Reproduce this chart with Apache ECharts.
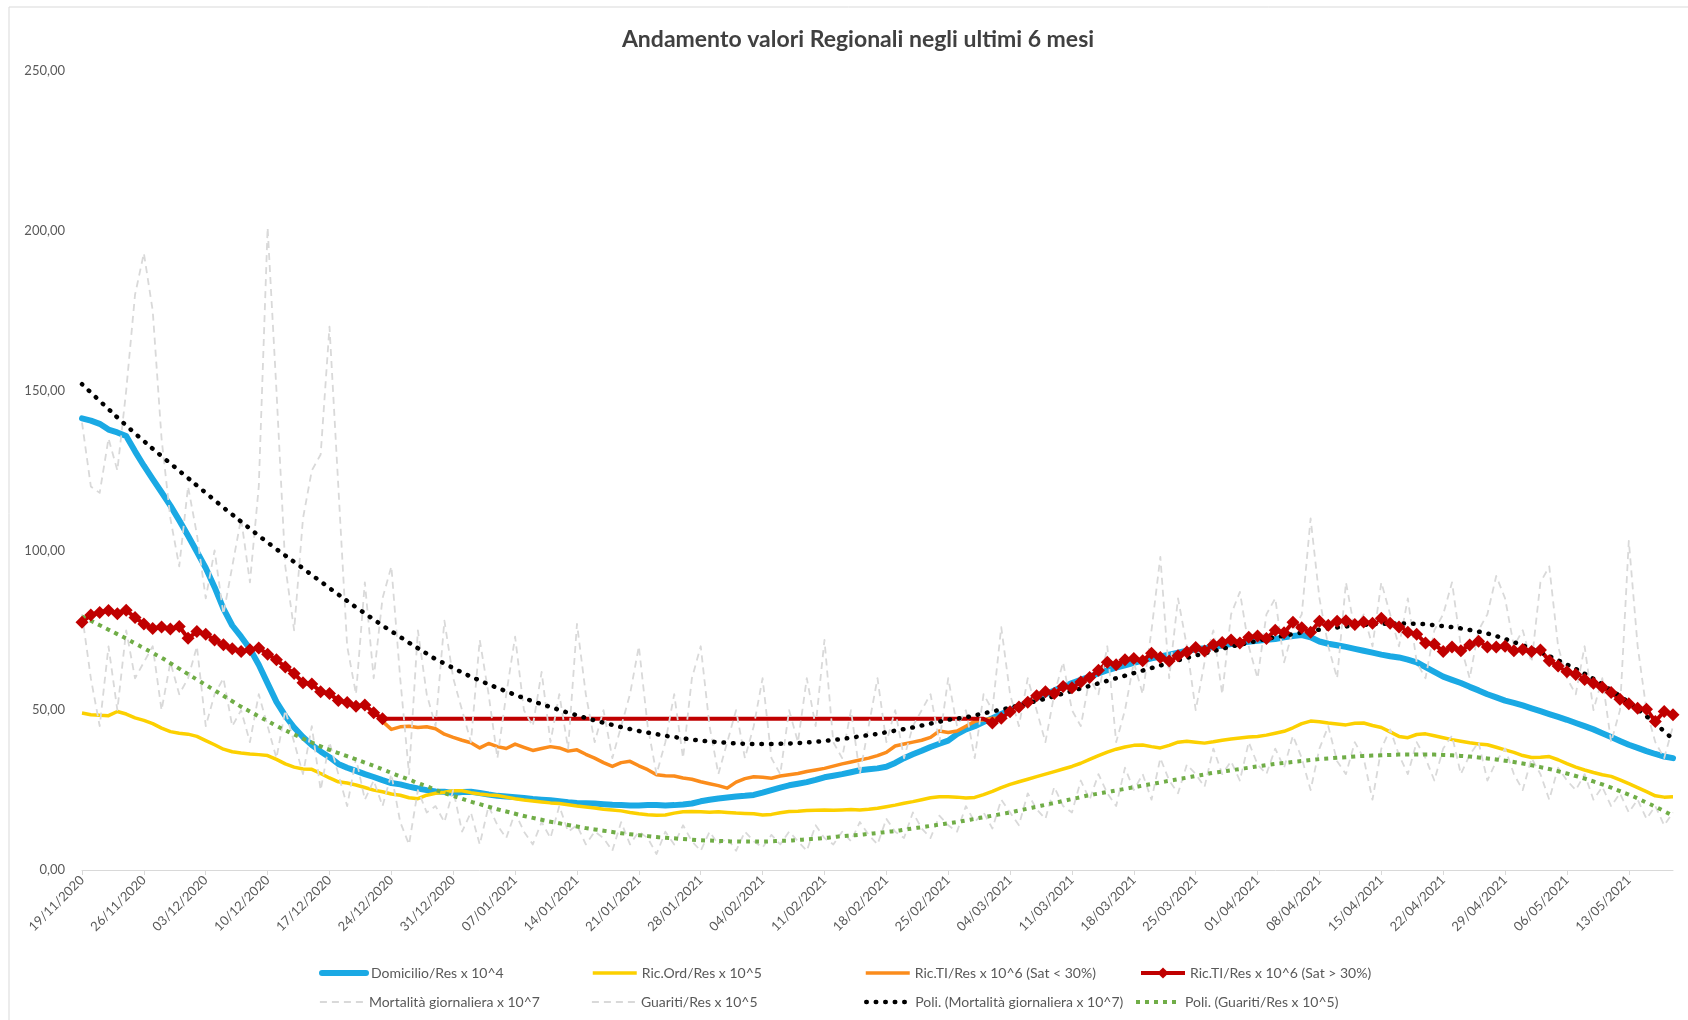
<!DOCTYPE html>
<html>
<head>
<meta charset="utf-8">
<title>Andamento valori Regionali negli ultimi 6 mesi</title>
<script src="https://cdn.jsdelivr.net/npm/echarts@6/dist/echarts.min.js"></script>
<style>
  html, body { margin: 0; padding: 0; background: #ffffff; }
  #chart { width: 1688px; height: 1020px; }
</style>
</head>
<body>
<div id="chart"></div>
<script>
// Daily categories: 19/11/2020 .. 18/05/2021
const START_DAY = [2020, 10, 19];
const DAY_COUNT = 181;

// Domicilio/Res x 10^4
const domicilio = [
  141.3, 140.6, 139.6, 137.8, 136.9, 135.8, 131.0, 126.5, 122.3, 118.2,
  114.0, 109.4, 104.6, 99.6, 94.5, 88.5, 81.8, 76.5, 73.0, 69.2,
  64.2, 58.4, 52.6, 48.2, 44.6, 41.6, 39.1, 37.1, 35.3, 33.2,
  32.0, 31.0, 30.0, 29.1, 28.1, 27.2, 26.8, 26.1, 25.5, 25.0,
  24.6, 24.5, 24.1, 24.4, 24.5, 24.1, 23.6, 23.2, 23.0, 22.8,
  22.5, 22.2, 22.0, 21.8, 21.5, 21.2, 21.0, 20.9, 20.8, 20.6,
  20.4, 20.3, 20.2, 20.2, 20.3, 20.3, 20.2, 20.3, 20.5, 20.8,
  21.5, 22.0, 22.4, 22.7, 23.0, 23.2, 23.5, 24.2, 25.0, 25.8,
  26.5, 27.0, 27.5, 28.2, 29.0, 29.5, 30.0, 30.6, 31.2, 31.5,
  31.8, 32.3, 33.5, 35.0, 36.2, 37.3, 38.5, 39.5, 40.5, 42.5,
  44.0, 45.0, 46.3, 47.5, 48.8, 50.0, 51.2, 52.5, 53.8, 55.0,
  56.2, 57.3, 58.5, 59.5, 60.5, 61.5, 62.5, 63.3, 64.0, 64.8,
  65.5, 66.2, 66.8, 67.4, 68.0, 68.6, 69.0, 69.4, 69.8, 70.2,
  70.7, 71.1, 71.4, 71.7, 72.0, 72.3, 72.8, 73.2, 73.5, 72.8,
  71.5, 70.8, 70.3, 69.8, 69.2, 68.6, 68.0, 67.4, 66.9, 66.5,
  65.8, 65.0, 63.5, 62.0, 60.5, 59.5, 58.5, 57.3, 56.2, 55.0,
  54.0, 53.0, 52.3, 51.5, 50.6, 49.7, 48.8, 47.9, 47.0, 46.0,
  45.0, 44.0, 42.8, 41.6, 40.4, 39.2, 38.2, 37.2, 36.3, 35.5,
  35.0
];

// Ric.Ord/Res x 10^5
const ricOrd = [
  49.1, 48.6, 48.4, 48.3, 49.6, 48.8, 47.6, 46.8, 45.8, 44.4,
  43.3, 42.8, 42.5, 41.8, 40.5, 39.2, 37.8, 37.0, 36.6, 36.3,
  36.1, 35.8, 34.6, 33.2, 32.2, 31.6, 31.5, 30.2, 28.8, 27.6,
  27.2, 26.6, 25.8, 25.0, 24.5, 23.8, 23.4, 22.6, 22.3, 23.4,
  24.0, 24.3, 24.8, 24.8, 24.2, 23.8, 23.5, 23.3, 22.8, 22.3,
  21.9, 21.6, 21.3, 21.0, 20.8, 20.4, 20.0, 19.7, 19.4, 19.0,
  18.8, 18.5, 18.0, 17.6, 17.3, 17.1, 17.2, 17.8, 18.2, 18.3,
  18.2, 18.1, 18.2, 18.0, 17.8, 17.7, 17.6, 17.2, 17.4, 17.9,
  18.3, 18.4, 18.6, 18.7, 18.8, 18.7, 18.8, 18.9, 18.8, 19.0,
  19.3, 19.8, 20.3, 20.9, 21.4, 22.0, 22.6, 22.9, 22.9, 22.8,
  22.5, 22.7, 23.6, 24.6, 25.8, 26.8, 27.6, 28.4, 29.2, 30.0,
  30.8, 31.6, 32.4, 33.4, 34.6, 35.8, 36.9, 37.8, 38.5, 39.0,
  39.1, 38.6, 38.2, 39.0, 40.0, 40.3, 40.0, 39.7, 40.1, 40.6,
  41.0, 41.3, 41.6, 41.8, 42.2, 42.8, 43.4, 44.5, 45.8, 46.6,
  46.4, 46.0, 45.7, 45.4, 45.9, 46.0, 45.2, 44.6, 43.2, 41.8,
  41.4, 42.4, 42.6, 42.0, 41.4, 40.8, 40.3, 39.8, 39.4, 39.2,
  38.4, 37.6, 36.8, 35.8, 35.2, 35.3, 35.5, 34.5, 33.3, 32.2,
  31.3, 30.5, 29.8, 29.3, 28.2, 27.0, 25.8, 24.5, 23.2, 22.8,
  22.9
];

// Ric.TI/Res x 10^6 while saturation is below 30%
const ricTiLow = [
  null, null, null, null, null, null, null, null, null, null,
  null, null, null, null, null, null, null, null, null, null,
  null, null, null, null, null, null, null, null, null, null,
  null, null, null, null, 46.5, 44.0, 44.8, 45.0, 44.6, 44.8,
  44.2, 42.5, 41.5, 40.6, 39.8, 38.2, 39.6, 38.6, 38.0, 39.4,
  38.4, 37.4, 38.0, 38.6, 38.2, 37.2, 37.6, 36.2, 35.0, 33.6,
  32.4, 33.6, 34.0, 32.6, 31.4, 29.8, 29.5, 29.4, 28.8, 28.4,
  27.6, 27.0, 26.4, 25.6, 27.5, 28.6, 29.2, 29.0, 28.7, 29.4,
  29.8, 30.2, 30.8, 31.3, 31.8, 32.5, 33.2, 33.8, 34.4, 35.0,
  35.8, 36.8, 38.8, 39.4, 40.0, 40.6, 41.5, 43.5, 43.0, 43.5,
  45.0, 46.5, 47.0, 47.5, 47.3, null, null, null, null, null,
  null, null, null, null, null, null, null, null, null, null,
  null, null, null, null, null, null, null, null, null, null,
  null, null, null, null, null, null, null, null, null, null,
  null, null, null, null, null, null, null, null, null, null,
  null, null, null, null, null, null, null, null, null, null,
  null, null, null, null, null, null, null, null, null, null,
  null, null, null, null, null, null, null, null, null, null,
  null
];

// Ric.TI/Res x 10^6 while saturation is above 30%;
// null days sit on the 30% saturation level and carry no marker
const SAT_LEVEL = 47.3;
const ricTiHigh = [
  77.5, 79.8, 80.6, 81.2, 80.2, 81.3, 79.0, 77.0, 75.6, 76.0,
  75.4, 76.2, 72.5, 74.6, 73.8, 72.0, 70.5, 69.2, 68.4, 68.9,
  69.5, 67.5, 65.8, 63.5, 61.5, 58.6, 58.2, 55.8, 55.2, 53.0,
  52.4, 51.2, 51.6, 49.2, 47.3, null, null, null, null, null,
  null, null, null, null, null, null, null, null, null, null,
  null, null, null, null, null, null, null, null, null, null,
  null, null, null, null, null, null, null, null, null, null,
  null, null, null, null, null, null, null, null, null, null,
  null, null, null, null, null, null, null, null, null, null,
  null, null, null, null, null, null, null, null, null, null,
  null, null, null, 46.0, 47.5, 49.5, 51.0, 52.5, 54.5, 55.8,
  55.2, 57.4, 57.0, 58.8, 60.2, 62.5, 65.0, 64.2, 65.8, 66.2,
  65.5, 67.8, 66.5, 65.4, 67.0, 68.2, 69.6, 68.5, 70.5, 71.2,
  72.0, 71.0, 72.8, 73.2, 72.4, 75.0, 74.2, 77.5, 75.8, 74.4,
  77.8, 76.6, 77.8, 78.0, 76.8, 77.6, 77.2, 78.8, 77.2, 76.0,
  74.4, 73.8, 71.0, 70.6, 68.4, 69.8, 68.6, 70.4, 71.6, 69.8,
  69.8, 70.0, 68.6, 69.0, 68.4, 68.8, 65.5, 63.8, 62.0, 61.2,
  59.6, 58.4, 57.2, 55.5, 53.4, 52.0, 50.6, 50.3, 46.5, 49.6,
  48.6
];

// Mortalità giornaliera x 10^7
const mortalita = [
  140, 120, 118, 135, 125, 150, 180, 193, 175, 135,
  110, 95, 120, 105, 85, 100, 80, 95, 110, 90,
  120, 201, 150, 95, 75, 110, 125, 130, 170, 120,
  70, 55, 90, 60, 85, 95, 60, 30, 75, 55,
  45, 78, 60, 50, 40, 72, 55, 35, 55, 73,
  50, 45, 62, 40, 55, 38, 77, 55, 40, 50,
  35, 45, 55, 70, 45, 30, 40, 55, 35, 60,
  70, 45, 30, 40, 50, 35, 45, 60, 35, 30,
  50, 40, 60, 45, 72, 40, 35, 50, 30, 45,
  60, 40, 50, 35, 45, 50, 55, 40, 60, 45,
  50, 35, 55, 50, 76, 55, 45, 60, 50, 40,
  55, 65, 50, 45, 60, 55, 70, 40, 50, 65,
  55, 75, 98, 60, 85, 70, 50, 65, 75, 55,
  80, 87, 70, 60, 80, 85, 65, 75, 80, 110,
  85, 70, 60, 90, 75, 80, 70, 90, 80, 70,
  85, 65, 60, 75, 80, 90, 70, 60, 75, 80,
  92, 85, 70, 75, 65, 90, 95, 70, 60, 55,
  70, 50, 60, 40, 50, 103, 70, 50, 40, 35,
  45
];

// Guariti/Res x 10^5
const guariti = [
  80, 60, 45, 70, 50, 75, 60, 65, 70, 50,
  65, 55, 60, 70, 45, 55, 60, 45, 50, 40,
  55, 45, 35, 50, 40, 30, 45, 25, 40, 30,
  20, 35, 22, 28, 20, 30, 15, 8, 25, 18,
  20, 15, 25, 12, 18, 8, 20, 14, 10, 18,
  12, 8, 15, 10, 20, 12, 14, 8, 12, 10,
  6, 15, 8, 12, 10, 5, 12, 8, 14, 9,
  6, 12, 8, 10, 6, 12, 9, 7, 11, 8,
  12, 9, 6, 14, 10, 8, 12, 9, 15, 11,
  8, 16, 12, 10, 18, 13, 10, 17, 14, 12,
  20, 15, 18, 13, 22, 18, 14, 24, 19, 16,
  26, 20, 18, 28, 22, 30, 24, 20, 32, 25,
  30, 22, 35, 28, 24, 33, 30, 26, 38, 30,
  34, 28, 40, 33, 30, 38, 32, 42, 35, 25,
  38, 45, 34, 30, 40, 35, 22, 38, 44, 36,
  30, 40, 35, 28, 38, 42, 30, 36, 40, 28,
  34, 38, 30, 25, 35, 30, 22, 32, 28, 25,
  30, 22, 26, 20, 24, 18, 22, 16, 20, 14,
  18
];

// Poli. (Mortalità giornaliera x 10^7) - polynomial trend
const trendMortalita = [
  152.0, 149.4, 146.8, 144.2, 141.6, 139.1, 136.6, 134.2, 131.8, 129.5,
  127.2, 124.9, 122.6, 120.3, 118.0, 115.7, 113.4, 111.2, 109.0, 106.8,
  104.6, 102.5, 100.4, 98.4, 96.4, 94.4, 92.3, 90.3, 88.2, 86.2,
  84.2, 82.2, 80.3, 78.4, 76.5, 74.7, 72.9, 71.1, 69.4, 67.7,
  66.0, 64.6, 63.2, 61.8, 60.5, 59.3, 58.1, 57.0, 55.9, 54.8,
  53.8, 52.8, 51.9, 51.0, 50.1, 49.2, 48.4, 47.6, 46.8, 46.1,
  45.4, 44.7, 44.1, 43.5, 43.0, 42.5, 42.0, 41.6, 41.2, 40.8,
  40.5, 40.2, 40.0, 39.8, 39.6, 39.5, 39.4, 39.4, 39.4, 39.5,
  39.6, 39.7, 39.9, 40.1, 40.4, 40.7, 41.0, 41.4, 41.8, 42.2,
  42.6, 43.1, 43.6, 44.1, 44.6, 45.2, 45.8, 46.4, 47.0, 47.4,
  47.8, 48.4, 49.0, 49.6, 50.2, 50.8, 51.5, 52.2, 52.9, 53.6,
  54.4, 55.2, 56.0, 56.8, 57.6, 58.4, 59.2, 60.0, 60.8, 61.6,
  62.4, 63.2, 64.0, 64.8, 65.6, 66.4, 67.1, 67.8, 68.5, 69.2,
  69.9, 70.5, 71.1, 71.7, 72.3, 72.8, 73.3, 73.8, 74.3, 74.8,
  75.2, 75.6, 75.9, 76.2, 76.5, 76.7, 76.9, 77.0, 77.1, 77.1,
  77.1, 77.0, 76.9, 76.6, 76.3, 76.0, 75.6, 75.1, 74.6, 74.0,
  73.2, 72.3, 71.3, 70.3, 69.2, 68.1, 66.9, 65.6, 64.3, 62.9,
  61.4, 59.8, 58.1, 56.3, 54.4, 52.4, 50.3, 48.1, 45.8, 43.4,
  40.9
];

// Poli. (Guariti/Res x 10^5) - polynomial trend
const trendGuariti = [
  79.3, 78.0, 76.6, 75.2, 73.8, 72.4, 70.9, 69.4, 67.9, 66.4,
  64.7, 63.0, 61.3, 59.6, 57.9, 56.2, 54.5, 52.8, 51.1, 49.6,
  48.1, 46.6, 45.1, 43.7, 42.4, 41.1, 39.9, 38.7, 37.6, 36.6,
  35.6, 34.6, 33.6, 32.6, 31.5, 30.4, 29.3, 28.3, 27.2, 26.2,
  25.1, 24.1, 23.2, 22.3, 21.4, 20.6, 19.8, 19.0, 18.3, 17.6,
  16.9, 16.3, 15.7, 15.1, 14.6, 14.1, 13.6, 13.1, 12.7, 12.3,
  11.9, 11.5, 11.2, 10.9, 10.6, 10.3, 10.1, 9.9, 9.7, 9.5,
  9.3, 9.2, 9.1, 9.0, 8.9, 8.9, 8.9, 8.9, 9.0, 9.1,
  9.2, 9.4, 9.6, 9.8, 10.0, 10.3, 10.6, 10.8, 11.0, 11.3,
  11.6, 11.9, 12.2, 12.6, 13.0, 13.4, 13.8, 14.2, 14.6, 15.0,
  15.5, 16.0, 16.5, 17.0, 17.5, 18.0, 18.6, 19.2, 19.8, 20.4,
  21.0, 21.6, 22.2, 22.8, 23.4, 23.9, 24.4, 24.9, 25.4, 25.9,
  26.4, 26.9, 27.4, 27.9, 28.4, 28.9, 29.4, 29.9, 30.4, 30.8,
  31.2, 31.6, 32.0, 32.4, 32.8, 33.2, 33.5, 33.8, 34.1, 34.4,
  34.7, 34.9, 35.1, 35.3, 35.5, 35.7, 35.8, 35.9, 36.0, 36.1,
  36.1, 36.1, 36.1, 36.1, 36.0, 35.9, 35.7, 35.5, 35.2, 34.9,
  34.6, 34.2, 33.8, 33.3, 32.8, 32.2, 31.6, 30.9, 30.2, 29.4,
  28.6, 27.7, 26.8, 25.8, 24.7, 23.6, 22.4, 21.1, 19.8, 18.4,
  17.0
];

const seriesNames = [
  'Domicilio/Res x 10^4',
  'Ric.Ord/Res x 10^5',
  'Ric.TI/Res x 10^6 (Sat < 30%)',
  'Ric.TI/Res x 10^6 (Sat > 30%)',
  'Mortalità giornaliera x 10^7',
  'Guariti/Res x 10^5',
  'Poli. (Mortalità giornaliera x 10^7)',
  'Poli. (Guariti/Res x 10^5)'
];

const yTicks = [0, 50, 100, 150, 200, 250];

function pad2(n) { return (n < 10 ? '0' : '') + n; }
const days = [];
for (let i = 0; i < DAY_COUNT; i++) {
  const d = new Date(START_DAY[0], START_DAY[1], START_DAY[2] + i);
  days.push(pad2(d.getDate()) + '/' + pad2(d.getMonth() + 1) + '/' + d.getFullYear());
}

const FONT = 'Lato, "Open Sans", sans-serif';
const TEXT_GREY = '#595959';

// line look of each series, shared by the plot and its legend key
const looks = [
  { color: '#1aa9e4', width: 6, type: 'solid', cap: 'round' },
  { color: '#fcd000', width: 3.5, type: 'solid', cap: 'butt' },
  { color: '#fb8c1c', width: 3.5, type: 'solid', cap: 'butt' },
  { color: '#c00000', width: 4, type: 'solid', cap: 'butt' },
  { color: '#d9d9d9', width: 1.8, type: [7, 5], cap: 'butt' },
  { color: '#d9d9d9', width: 1.8, type: [7, 5], cap: 'butt' },
  { color: '#000000', width: 4.5, type: [0.5, 9], cap: 'round' },
  { color: '#70ad47', width: 4, type: [4, 5], cap: 'butt' }
];
const MARKED = 3; // only the Sat > 30% series carries markers

const highData = ricTiHigh.map(v => v == null
  ? { value: SAT_LEVEL, symbol: 'none' }
  : v);

// legend slots: [left, top]
const legendSlots = [
  [319, 966], [591, 966], [864, 966], [1139, 966],
  [319, 995], [591, 995], [864, 995], [1134, 995]
];

const chart = echarts.init(document.getElementById('chart'), null, { renderer: 'canvas' });

chart.setOption({
  animation: false,
  backgroundColor: '#ffffff',
  title: {
    text: 'Andamento valori Regionali negli ultimi 6 mesi',
    left: 853,
    top: 23,
    textAlign: 'center',
    textStyle: { fontFamily: FONT, fontSize: 23, fontWeight: 'bold', color: '#404040' }
  },
  graphic: [
    { type: 'line', shape: { x1: 9, y1: 7, x2: 1688, y2: 7 }, style: { stroke: '#d9d9d9', lineWidth: 1 }, silent: true },
    { type: 'line', shape: { x1: 9, y1: 7, x2: 9, y2: 1020 }, style: { stroke: '#d9d9d9', lineWidth: 1 }, silent: true }
  ],
  legend: seriesNames.map((name, i) => ({
    data: [name],
    left: legendSlots[i][0],
    top: legendSlots[i][1],
    padding: 0,
    itemWidth: 44,
    itemHeight: 14,
    itemGap: 4,
    selectedMode: false,
    lineStyle: { width: looks[i].width, type: looks[i].type, cap: looks[i].cap, color: looks[i].color },
    itemStyle: i === MARKED ? { color: looks[i].color } : { opacity: 0 },
    textStyle: { fontFamily: FONT, fontSize: 14, color: TEXT_GREY }
  })),
  grid: { left: 82, right: 15, top: 71, bottom: 150, containLabel: false },
  xAxis: {
    type: 'category',
    data: days,
    boundaryGap: false,
    axisLine: { lineStyle: { color: '#d9d9d9', width: 1 } },
    axisTick: { show: true, interval: 6, length: 5, lineStyle: { color: '#d9d9d9' } },
    axisLabel: {
      interval: 6,
      rotate: 45,
      margin: 8,
      fontFamily: FONT,
      fontSize: 13,
      color: TEXT_GREY
    },
    splitLine: { show: false }
  },
  yAxis: {
    type: 'value',
    min: yTicks[0],
    max: yTicks[yTicks.length - 1],
    interval: yTicks[1] - yTicks[0],
    axisLine: { show: false },
    axisTick: { show: false },
    splitLine: { show: false },
    axisLabel: {
      margin: 17,
      fontFamily: FONT,
      fontSize: 13,
      color: TEXT_GREY,
      formatter: v => v.toFixed(2).replace('.', ',')
    }
  },
  series: [
    { data: domicilio },
    { data: ricOrd },
    { data: ricTiLow },
    { data: highData, symbol: 'diamond', symbolSize: 13, showAllSymbol: true },
    { data: mortalita },
    { data: guariti },
    { data: trendMortalita, smooth: true },
    { data: trendGuariti, smooth: true }
  ].map((s, i) => Object.assign({
    name: seriesNames[i],
    type: 'line',
    symbol: 'none',
    lineStyle: { color: looks[i].color, width: looks[i].width, type: looks[i].type, cap: looks[i].cap, join: 'round' },
    itemStyle: { color: looks[i].color }
  }, s))
});
</script>
</body>
</html>
